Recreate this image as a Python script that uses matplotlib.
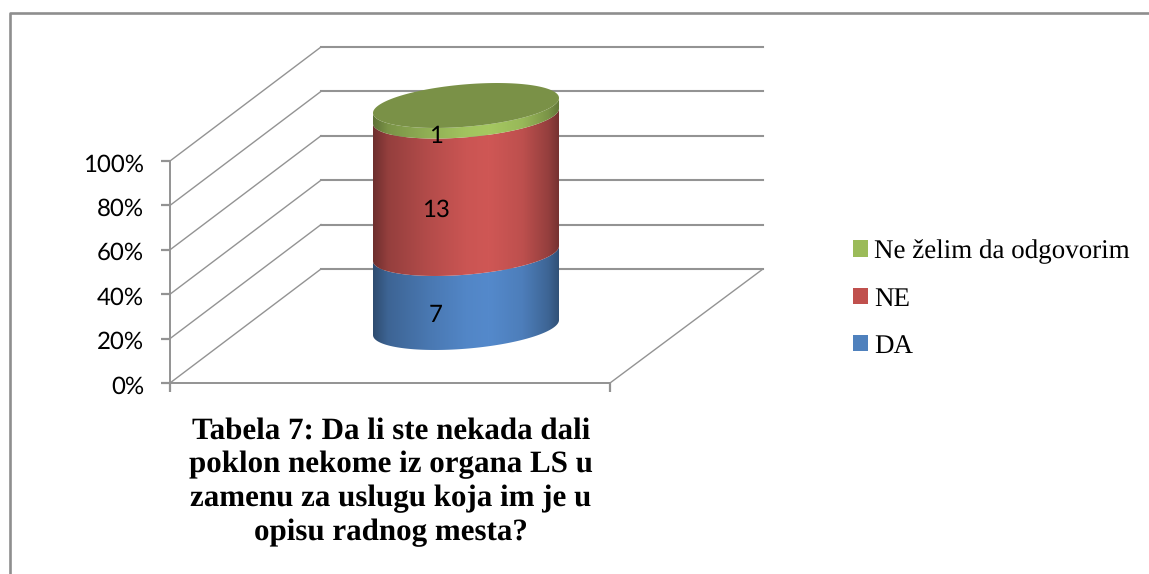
import numpy as np
import matplotlib
matplotlib.use("Agg")
import matplotlib.pyplot as plt
from matplotlib.path import Path
from matplotlib.patches import Patch
from matplotlib.colors import LinearSegmentedColormap, to_rgb
from matplotlib.lines import Line2D
from matplotlib.transforms import ScaledTranslation

plt.rcParams["text.hinting"] = "none"
plt.rcParams["text.hinting_factor"] = 1

# Data
series_names = ["DA", "NE", "Ne želim da odgovorim"]
series_values = [7, 13, 1]
percent_ticks = [0, 20, 40, 60, 80, 100]
title_lines = ["Tabela 7: Da li ste nekada dali", "poklon nekome iz organa LS u",
               "zamenu za uslugu koja im je u", "opisu radnog mesta?"]
base_colors = ["#4F81BD", "#C0504D", "#9BBB59"]
bright_colors = ["#5489CB", "#CF5755", "#A5C861"]
dark_colors = ["#2E4C70", "#6E2F2E", "#5E7136"]
top_color = "#7A9147"

W, H = 1149, 574
GRID = "#939393"
fig = plt.figure(figsize=(W / 100, H / 100), dpi=100, facecolor="white")
ax = fig.add_axes([170 / W, (H - 383) / H, 440 / W, 222 / H])
ax.patch.set_visible(False)
ax.set_xlim(0, 440)
ax.set_ylim(0, 100)
k = 100 / 222  # percent per pixel

# Axes
for s in ("top", "right"):
    ax.spines[s].set_visible(False)
for s in ("left", "bottom"):
    ax.spines[s].set_color(GRID)
    ax.spines[s].set_linewidth(1.4)
ax.set_xticks([0, 440])
ax.set_xticklabels([])
ax.set_yticks(percent_ticks)
ax.set_yticklabels([f"{p}%" for p in percent_ticks], fontfamily="Lato", fontsize=17, color="black")
ax.tick_params(axis="both", color=GRID, width=1.6, length=6.2)
ax.tick_params(axis="y", pad=12.5)
shift = ScaledTranslation(0, -1.5 / 100, fig.dpi_scale_trans)
for lab in ax.get_yticklabels():
    lab.set_transform(lab.get_transform() + shift)

# 3D walls
dx, dy = 151, 114 * k
for p in percent_ticks:
    ax.plot([0, dx], [p, p + dy], color=GRID, lw=1.0, clip_on=False, zorder=1)
    ax.plot([dx, 593], [p + dy, p + dy], color=GRID, lw=1.5, clip_on=False, zorder=1)
ax.plot([440, 593], [0, dy], color=GRID, lw=1.0, clip_on=False, zorder=1)

# Cylinder
cx, a = 296, 93
tilt, b = 7.5 * k, 21.2 * k
base = 25.0
total = sum(series_values)
levels = base + 100 * np.cumsum([0] + series_values) / total


def edge(level, t):
    return cx + a * np.cos(t), level + tilt * np.cos(t) + b * np.sin(t)


front = np.linspace(np.pi, 2 * np.pi, 200)
stops = [0.0, 0.08, 0.3, 0.5, 0.62, 0.8, 0.94, 1.0]
weights = [0.0, 0.4, 0.72, 0.95, 1.0, 0.82, 0.4, 0.05]
for i in range(len(series_values)):
    x0, y0 = edge(levels[i], front)
    x1, y1 = edge(levels[i + 1], front[::-1])
    verts = np.column_stack([np.r_[x0, x1], np.r_[y0, y1]])
    path = Path(np.vstack([verts, verts[:1]]), closed=True)
    cmap = LinearSegmentedColormap.from_list("c", [to_rgb(dark_colors[i]), to_rgb(bright_colors[i])])
    im = ax.imshow(cmap(np.interp(np.linspace(0, 1, 256), stops, weights))[None, :, :3],
                   extent=[cx - a, cx + a, verts[:, 1].min(), verts[:, 1].max()],
                   aspect="auto", interpolation="bilinear", zorder=3 + i)
    im.set_clip_path(path, transform=ax.transData)
    im.set_clip_box(fig.bbox)

t = np.linspace(0, 2 * np.pi, 300)
xt, yt = edge(levels[-1], t)
ax.fill(xt, yt, color=top_color, lw=0, clip_on=False, zorder=8)
ax.set_xlim(0, 440)
ax.set_ylim(0, 100)

# Data labels
label_x = 266
mid = levels[:-1] + (levels[1:] - levels[:-1]) / 2
for m, v in zip(mid, series_values):
    ax.text(label_x, m - 25 * k, str(v), ha="center", va="center", fontfamily="Lato",
            fontsize=17, color="black", clip_on=False, zorder=9)

# Legend
handles = [Patch(facecolor=c, edgecolor="none") for c in base_colors[::-1]]
fig.legend(handles, series_names[::-1], loc="center left",
           bbox_to_anchor=(853 / W, 1 - 299 / H), frameon=False,
           prop={"family": "Liberation Serif", "size": 19.5},
           handlelength=0.553, handleheight=0.553, handletextpad=0.22,
           labelspacing=0.84, borderpad=0, borderaxespad=0)

# Title
fig.text(391 / W, 1 - 482 / H, "\n".join(title_lines), ha="center", va="center",
         fontfamily="Liberation Serif", fontweight="bold", fontsize=22.3, linespacing=1.255,
         color="black")

# Chart-area border (left and top only are in frame)
fig.add_artist(Line2D([10 / W, 10 / W, 1], [0, 1 - 13 / H, 1 - 13 / H], color="#8E8E8E", lw=1.9))

fig.savefig("out.png", dpi=100)
